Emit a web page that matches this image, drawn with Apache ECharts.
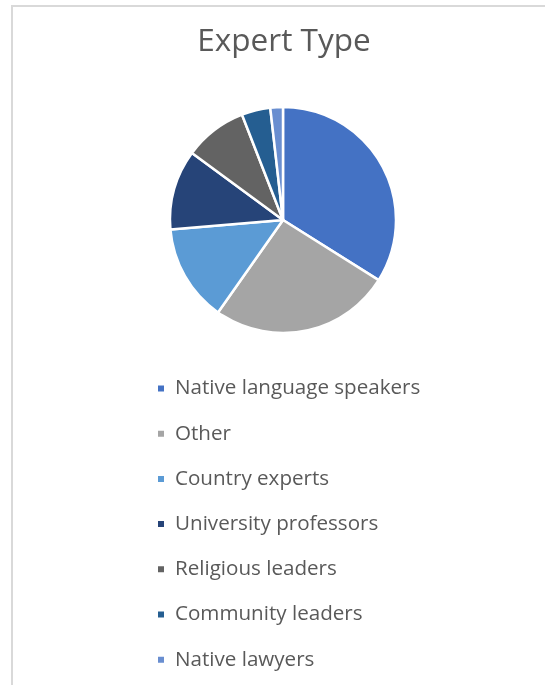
<!DOCTYPE html>
<html>
<head>
<meta charset="utf-8">
<script src="https://cdn.jsdelivr.net/npm/echarts@6/dist/echarts.min.js"></script>
<style>
  html, body { margin: 0; padding: 0; background: #fff; }
  #frame { position: absolute; left: 11px; top: 5px; width: 534px; height: 680px;
           border-left: 2px solid #D9D9D9; border-top: 2px solid #D9D9D9; }
  #chart { position: absolute; left: 0; top: 0; width: 545px; height: 685px; }
</style>
</head>
<body>
<div id="frame"></div>
<div id="chart"></div>
<script>
const categories = ["Native language speakers", "Other", "Country experts", "University professors", "Religious leaders", "Community leaders", "Native lawyers"];
const values = [33.9, 25.8, 13.9, 11.4, 9.0, 4.1, 1.8];
const colors = ["#4472C4", "#A5A5A5", "#5B9BD5", "#264478", "#636363", "#255E91", "#698ED0"];

const chart = echarts.init(document.getElementById('chart'), null, { renderer: 'canvas' });
chart.setOption({
  animation: false,
  color: colors,
  title: {
    text: "Expert Type",
    left: 284,
    textAlign: 'center',
    top: 26,
    padding: 0,
    textStyle: { fontFamily: "Open Sans", fontSize: 31.5, fontWeight: 'normal', color: '#595959' }
  },
  legend: {
    orient: 'vertical',
    left: 156,
    top: 378,
    padding: 0,
    icon: 'rect',
    itemWidth: 8,
    itemHeight: 8,
    itemGap: 24.2,
    data: categories,
    textStyle: { fontFamily: "Open Sans", fontSize: 20.6, lineHeight: 20.6, color: '#595959', padding: [0, 0, 0, 5] }
  },
  series: [{
    type: 'pie',
    center: [283, 220],
    radius: 113,
    startAngle: 90,
    clockwise: true,
    label: { show: false },
    labelLine: { show: false },
    itemStyle: { borderColor: '#fff', borderWidth: 2.5 },
    emphasis: { disabled: true },
    data: categories.map((c, i) => ({ name: c, value: values[i] }))
  }]
});
</script>
</body>
</html>
